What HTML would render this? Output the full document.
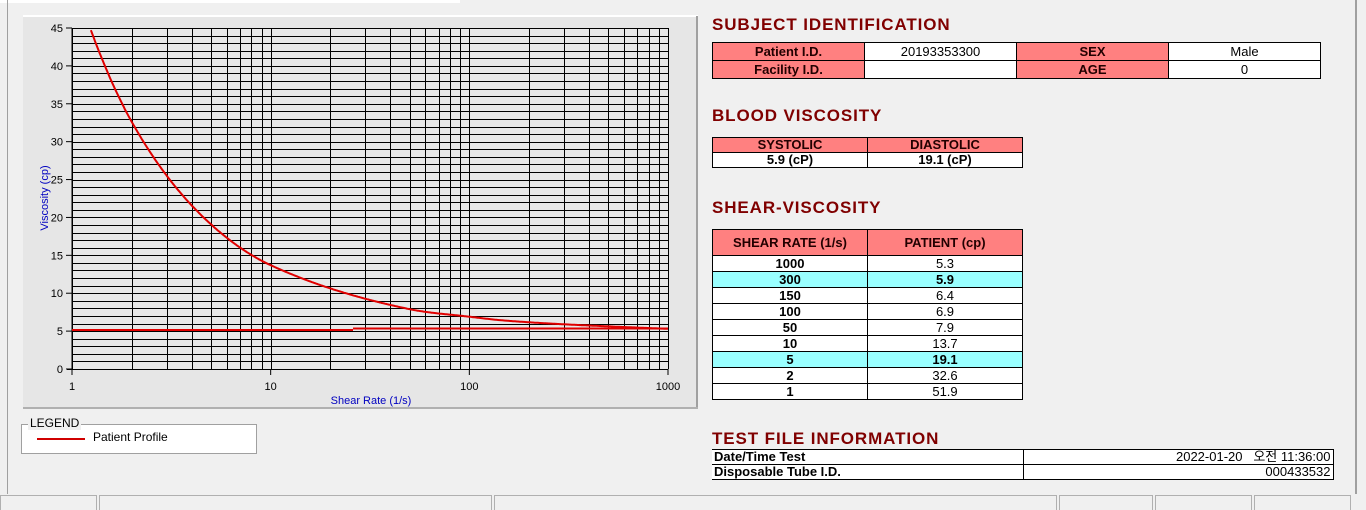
<!DOCTYPE html>
<html><head><meta charset="utf-8"><style>
body{margin:0;width:1366px;height:508px;background:#f0f0f0;position:relative;overflow:hidden;font-family:"Liberation Sans","Noto Sans CJK KR",sans-serif}
.a{position:absolute}
.h{position:absolute;left:712px;font-weight:bold;font-size:17px;color:#800000;letter-spacing:0.9px}
table{position:absolute;border-collapse:collapse;font-size:13px;table-layout:fixed}
td{border:1px solid #000;padding:0;text-align:center;height:17px;line-height:15px;overflow:hidden;white-space:nowrap}
.r{background:#ff8080;font-weight:bold;color:#200}
.w{background:#fff}
.c{background:#99ffff;font-weight:bold}
.b{font-weight:bold}
.sb{position:absolute;top:495px;height:14px;border:1px solid #b0b0b0;border-bottom:none;background:#f0f0f0}
</style></head><body>
<div class="a" style="left:0;top:0;width:460px;height:3px;background:#fff"></div>
<div class="a" style="left:7px;top:0;width:1px;height:494px;background:#a0a0a0"></div>
<div class="a" style="left:1355px;top:0;width:2px;height:494px;background:#a0a0a0"></div>
<svg class="a" style="left:0;top:0" width="700" height="420" id="s">
<rect x="23" y="16" width="675" height="393" fill="#e6e6e6"/>
<line x1="23" y1="16" x2="698" y2="16" stroke="#fff" stroke-width="2"/>
<line x1="697" y1="16" x2="697" y2="409" stroke="#a0a0a0" stroke-width="2"/>
<line x1="23" y1="408" x2="698" y2="408" stroke="#b0b0b0" stroke-width="2"/>
<rect x="72" y="28" width="596" height="341" fill="#e8e8e8"/>
<g id="g"></g>
</svg>
<div class="a" style="left:21px;top:424px;width:234px;height:28px;background:#fff;border:1px solid #a0a0a0"></div>
<div class="a" style="left:28px;top:416px;font-size:12px;background:#f0f0f0;padding:0 2px;color:#000">LEGEND</div>
<div class="a" style="left:37px;top:438px;width:48px;height:2px;background:#d00000"></div>
<div class="a" style="left:93px;top:430px;font-size:12px">Patient Profile</div>

<div class="h" style="top:15px">SUBJECT IDENTIFICATION</div>
<table style="left:712px;top:42px;width:608px"><col width="152"><col width="152"><col width="152"><col width="152">
<tr><td class="r">Patient I.D.</td><td class="w">20193353300</td><td class="r">SEX</td><td class="w">Male</td></tr>
<tr><td class="r">Facility I.D.</td><td class="w"></td><td class="r">AGE</td><td class="w">0</td></tr></table>

<div class="h" style="top:106px">BLOOD VISCOSITY</div>
<table style="left:712px;top:137px;width:310px"><col width="155"><col width="155">
<tr><td class="r" style="height:14px;line-height:14px">SYSTOLIC</td><td class="r" style="height:14px;line-height:14px">DIASTOLIC</td></tr>
<tr><td class="w b" style="height:14px;line-height:14px">5.9 (cP)</td><td class="w b" style="height:14px;line-height:14px">19.1 (cP)</td></tr></table>

<div class="h" style="top:198px">SHEAR-VISCOSITY</div>
<table style="left:712px;top:229px;width:310px"><col width="155"><col width="155">
<tr><td class="r" style="height:25px">SHEAR RATE (1/s)</td><td class="r" style="height:25px">PATIENT (cp)</td></tr>
<tr><td class="w b" style="height:15px">1000</td><td class="w" style="height:15px">5.3</td></tr>
<tr><td class="c" style="height:15px">300</td><td class="c" style="height:15px">5.9</td></tr>
<tr><td class="w b" style="height:15px">150</td><td class="w" style="height:15px">6.4</td></tr>
<tr><td class="w b" style="height:15px">100</td><td class="w" style="height:15px">6.9</td></tr>
<tr><td class="w b" style="height:15px">50</td><td class="w" style="height:15px">7.9</td></tr>
<tr><td class="w b" style="height:15px">10</td><td class="w" style="height:15px">13.7</td></tr>
<tr><td class="c" style="height:15px">5</td><td class="c" style="height:15px">19.1</td></tr>
<tr><td class="w b" style="height:15px">2</td><td class="w" style="height:15px">32.6</td></tr>
<tr><td class="w b" style="height:15px">1</td><td class="w" style="height:15px">51.9</td></tr></table>

<div class="h" style="top:429px">TEST FILE INFORMATION</div>
<table style="left:712px;top:449px;width:621px"><col width="311"><col width="310">
<tr><td class="w b" style="text-align:left;padding-left:2px;height:14px;line-height:14px;border-left:none">Date/Time Test</td><td class="w" style="text-align:right;padding-right:2px;height:14px;line-height:14px">2022-01-20 &nbsp;&nbsp;오전 11:36:00</td></tr>
<tr><td class="w b" style="text-align:left;padding-left:2px;height:14px;line-height:14px;border-left:none">Disposable Tube I.D.</td><td class="w" style="text-align:right;padding-right:2px;height:14px;line-height:14px">000433532</td></tr></table>

<div class="sb" style="left:0;width:95px"></div>
<div class="sb" style="left:99px;width:391px"></div>
<div class="sb" style="left:494px;width:561px"></div>
<div class="sb" style="left:1059px;width:92px"></div>
<div class="sb" style="left:1155px;width:95px"></div>
<div class="sb" style="left:1254px;width:95px"></div>

<script>
var g=document.getElementById('g'),h='';
function px(x){return 72+198.667*Math.log10(x)}
function py(v){return 369-341/45*v}
for(var v=0;v<=45;v++){var y=Math.round(py(v))+0.5;h+='<line x1="72" x2="668" y1="'+y+'" y2="'+y+'" stroke="#000" stroke-width="1"/>';}
for(var d=1;d<=100;d*=10)for(var k=1;k<=10;k++){var x=Math.round(px(d*k))+0.5;h+='<line y1="28" y2="369" x1="'+x+'" x2="'+x+'" stroke="#000" stroke-width="1"/>';}
h+='<line x1="72" x2="72" y1="28" y2="374" stroke="#000"/><line x1="67" x2="668" y1="369.5" y2="369.5" stroke="#000"/>';
for(var v=0;v<=45;v+=5){var y=py(v);h+='<line x1="66" x2="72" y1="'+y+'" y2="'+y+'" stroke="#000"/><text x="63" y="'+(y+4)+'" font-size="11" text-anchor="end" font-family="Liberation Sans">'+v+'</text>';}
[1,10,100,1000].forEach(function(d){var x=px(d);h+='<line x1="'+x+'" x2="'+x+'" y1="369" y2="375" stroke="#000"/><text x="'+x+'" y="390" font-size="11" text-anchor="middle" font-family="Liberation Sans">'+d+'</text>';});
h+='<text x="371" y="404" font-size="11" fill="#0000c0" text-anchor="middle" font-family="Liberation Sans">Shear Rate (1/s)</text>';
h+='<text transform="translate(48,198) rotate(-90)" font-size="11" fill="#0000c0" text-anchor="middle" font-family="Liberation Sans">Viscosity (cp)</text>';
var P=[[1,51.9],[2,32.6],[5,19.1],[10,13.7],[50,7.9],[100,6.9],[150,6.4],[300,5.9],[1000,5.3]].map(function(p){return[Math.log10(p[0]),Math.log10(p[1])]});
function f(lx){var i=0;while(i<P.length-2&&lx>P[i+1][0])i++;
var p0=P[Math.max(i-1,0)],p1=P[i],p2=P[i+1],p3=P[Math.min(i+2,P.length-1)];
var t=(lx-p1[0])/(p2[0]-p1[0]);
var m1=(p2[1]-p0[1])/(p2[0]-p0[0]||1),m2=(p3[1]-p1[1])/(p3[0]-p1[0]||1);if(i==0)m1=(p2[1]-p1[1])/(p2[0]-p1[0]);if(i==P.length-2)m2=(p2[1]-p1[1])/(p2[0]-p1[0]);
var dx=p2[0]-p1[0],t2=t*t,t3=t2*t;
return (2*t3-3*t2+1)*p1[1]+(t3-2*t2+t)*dx*m1+(-2*t3+3*t2)*p2[1]+(t3-t2)*dx*m2;}
var d='';for(var i=0;i<=600;i++){var lx=i/200;var v=Math.pow(10,f(lx));if(v>45)continue;d+=(d?'L':'M')+px(Math.pow(10,lx)).toFixed(1)+','+py(v).toFixed(1);}
h+='<path d="'+d+'" fill="none" stroke="#e00000" stroke-width="2"/>';
h+='<line x1="72" x2="353" y1="330" y2="330" stroke="#e00000" stroke-width="2"/><line x1="353" x2="668" y1="328.5" y2="328.5" stroke="#e00000" stroke-width="2"/>';
g.innerHTML=h;
</script>
</body></html>
